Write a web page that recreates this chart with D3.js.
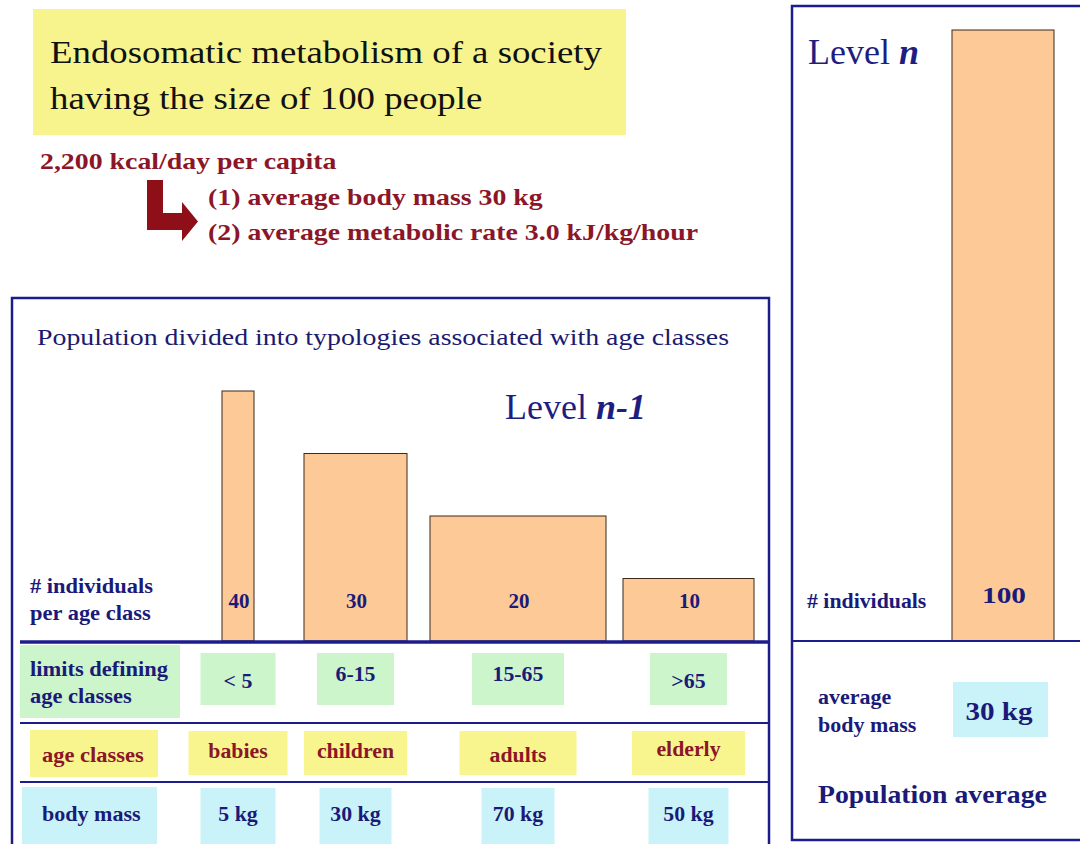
<!DOCTYPE html>
<meta charset="utf-8">
<head lang="en">
    <title>Endosomatic metabolism</title>
    <script src="https://cdnjs.cloudflare.com/ajax/libs/d3/7.8.5/d3.min.js"></script>
    <style type="text/css">
        body { margin: 0; background: #fff; }
        svg text { font-family: "Liberation Serif", "Times New Roman", serif; }
        .bar { fill: #fdc996; stroke: #3a2a1a; stroke-width: 1; }
        .frame { fill: none; stroke: #1c1c8c; stroke-width: 2.5; }
        .rule { stroke: #1c1c8c; stroke-width: 2; }
        .navy { fill: #1a1a78; font-weight: bold; }
        .red { fill: #8c1628; font-weight: bold; }
    </style>
</head>
<body>
<script type="text/javascript">

    // ---- data ----
    var ageClasses = ["babies", "children", "adults", "elderly"];
    var ageLimits = ["< 5", "6-15", "15-65", ">65"];
    var individuals = [40, 30, 20, 10];
    var bodyMass = [5, 30, 70, 50];          // kg
    var totalIndividuals = 100;
    var avgBodyMass = 30;                    // kg
    var titleLines = ["Endosomatic metabolism of a society", "having the size of 100 people"];
    var energyLines = ["2,200 kcal/day per capita", "(1) average body mass 30 kg",
        "(2) average metabolic rate 3.0 kJ/kg/hour"];

    var width = 1080, height = 844;
    var baseY = 641;

    var svg = d3.select("body").append("svg")
        .attr("width", width)
        .attr("height", height);

    // the original slide text is stretched sideways; widen glyphs by a factor
    function stretch(sel, f) {
        sel.each(function () {
            var w = this.getComputedTextLength();
            d3.select(this).attr("textLength", w * f).attr("lengthAdjust", "spacingAndGlyphs");
        });
        return sel;
    }

    //---- header ----
    svg.append("rect").attr("x", 33).attr("y", 9).attr("width", 593).attr("height", 126)
        .style("fill", "#f7f48e");
    svg.selectAll(".title").data(titleLines).enter().append("text")
        .attr("x", 50)
        .attr("y", function (d, i) { return 63 + i * 46; })
        .attr("font-size", "32px")
        .style("fill", "#111")
        .text(function (d) { return d; })
        .call(stretch, 1.15);

    svg.selectAll(".energy").data(energyLines).enter().append("text")
        .attr("class", "red")
        .attr("x", function (d, i) { return i === 0 ? 40 : 208; })
        .attr("y", function (d, i) { return i === 0 ? 169 : 170 + i * 35; })
        .attr("font-size", "23px")
        .text(function (d) { return d; })
        .call(stretch, 1.21);

    svg.append("path")
        .attr("d", "M147,180 H163 V213 H182 V202 L198,221.5 L182,241 V230 H147 Z")
        .style("fill", "#8e0f18");

    //---- left panel (level n-1) ----
    svg.append("rect").attr("class", "frame")
        .attr("x", 12).attr("y", 298).attr("width", 757).attr("height", 600);

    svg.append("text")
        .attr("x", 37).attr("y", 345)
        .attr("font-size", "24px")
        .style("fill", "#1a1a6e")
        .text("Population divided into typologies associated with age classes")
        .call(stretch, 1.16);

    var lvl1 = svg.append("text")
        .attr("x", 505).attr("y", 419)
        .attr("font-size", "36px")
        .style("fill", "#1e1e80");
    lvl1.append("tspan").text("Level ");
    lvl1.append("tspan").attr("font-weight", "bold").attr("font-style", "italic").text("n-1");

    // column layout
    var xLeft = d3.scaleOrdinal().domain(ageClasses).range([222, 304, 430, 623]);
    var xWidth = d3.scaleOrdinal().domain(ageClasses).range([32, 103, 176, 131]);
    var xMid = function (c) { return xLeft(c) + xWidth(c) / 2; };

    var yScale = d3.scaleLinear()
        .domain([0, d3.max(individuals)])
        .range([baseY, 391]);

    var rows = ageClasses.map(function (c, i) {
        return { cls: c, limit: ageLimits[i], n: individuals[i], mass: bodyMass[i] };
    });

    svg.selectAll(".bar.lvl1").data(rows).enter().append("rect")
        .attr("class", "bar lvl1")
        .attr("x", function (d) { return xLeft(d.cls); })
        .attr("width", function (d) { return xWidth(d.cls); })
        .attr("y", function (d) { return yScale(d.n); })
        .attr("height", function (d) { return yScale(0) - yScale(d.n); });

    svg.selectAll(".barlabel").data(rows).enter().append("text")
        .attr("class", "navy")
        .attr("x", function (d) { return xMid(d.cls) + 1; })
        .attr("y", 608)
        .attr("text-anchor", "middle")
        .attr("font-size", "21px")
        .text(function (d) { return d.n; });

    svg.selectAll(".rowlab1").data(["# individuals", "per age class"]).enter().append("text")
        .attr("class", "navy")
        .attr("x", 30)
        .attr("y", function (d, i) { return 593 + i * 27; })
        .attr("font-size", "21px")
        .text(function (d) { return d; })
        .call(stretch, 1.07);

    // table rows
    var rowDefs = [
        { key: "limit", fill: "#ccf5cc", cls: "navy", y0: 653, y1: 705, ty: [688, 681, 681, 688],
          widths: [75, 77, 92, 77], text: function (d) { return d.limit; } },
        { key: "cls", fill: "#f8f58e", cls: "red", y0: 731, y1: 775, ty: [758, 758, 762, 756],
          widths: [99, 103, 117, 113], text: function (d) { return d.cls; } },
        { key: "mass", fill: "#c9f3f8", cls: "navy", y0: 788, y1: 844, ty: [821, 821, 821, 821],
          widths: [75, 72, 73, 80], text: function (d) { return d.mass + " kg"; } }
    ];

    // label boxes
    svg.append("rect").attr("x", 20).attr("y", 645).attr("width", 160).attr("height", 73)
        .style("fill", "#ccf5cc");
    svg.append("rect").attr("x", 30).attr("y", 730).attr("width", 128).attr("height", 47)
        .style("fill", "#f8f58e");
    svg.append("rect").attr("x", 22).attr("y", 787).attr("width", 135).attr("height", 57)
        .style("fill", "#c9f3f8");

    rowDefs.forEach(function (r) {
        svg.selectAll(".cell-" + r.key).data(rows).enter().append("rect")
            .attr("x", function (d, i) { return xMid(d.cls) - r.widths[i] / 2; })
            .attr("y", r.y0)
            .attr("width", function (d, i) { return r.widths[i]; })
            .attr("height", r.y1 - r.y0)
            .style("fill", r.fill);
        svg.selectAll(".txt-" + r.key).data(rows).enter().append("text")
            .attr("class", r.cls)
            .attr("x", function (d) { return xMid(d.cls); })
            .attr("y", function (d, i) { return r.ty[i]; })
            .attr("text-anchor", "middle")
            .attr("font-size", "20px")
            .text(r.text)
            .call(stretch, 1.09);
    });

    svg.selectAll(".rowlab2").data(["limits defining", "age classes"]).enter().append("text")
        .attr("class", "navy")
        .attr("x", 30)
        .attr("y", function (d, i) { return 676 + i * 27; })
        .attr("font-size", "21px")
        .text(function (d) { return d; })
        .call(stretch, 1.07);
    svg.append("text").attr("class", "red")
        .attr("x", 42).attr("y", 762).attr("font-size", "21px")
        .text("age classes")
        .call(stretch, 1.07);
    svg.append("text").attr("class", "navy")
        .attr("x", 42).attr("y", 821).attr("font-size", "21px")
        .text("body mass")
        .call(stretch, 1.05);

    svg.append("line").attr("x1", 20).attr("x2", 770).attr("y1", baseY + 1).attr("y2", baseY + 1)
        .style("stroke", "#1c1c8c").style("stroke-width", 3.5);
    svg.append("line").attr("class", "rule").attr("x1", 20).attr("x2", 770).attr("y1", 723).attr("y2", 723);
    svg.append("line").attr("class", "rule").attr("x1", 20).attr("x2", 770).attr("y1", 782).attr("y2", 782);

    //---- right panel (level n) ----
    svg.append("rect").attr("class", "frame")
        .attr("x", 792).attr("y", 6).attr("width", 320).attr("height", 834);

    var lvl = svg.append("text")
        .attr("x", 808).attr("y", 64)
        .attr("font-size", "36px")
        .style("fill", "#1e1e80");
    lvl.append("tspan").text("Level ");
    lvl.append("tspan").attr("font-weight", "bold").attr("font-style", "italic").text("n");

    var yScaleN = d3.scaleLinear()
        .domain([0, totalIndividuals])
        .range([baseY, 30]);

    svg.selectAll(".bar.lvln").data([totalIndividuals]).enter().append("rect")
        .attr("class", "bar lvln")
        .attr("x", 952).attr("width", 102)
        .attr("y", function (d) { return yScaleN(d); })
        .attr("height", function (d) { return yScaleN(0) - yScaleN(d); });

    svg.append("text").attr("class", "navy")
        .attr("x", 1004).attr("y", 603).attr("text-anchor", "middle")
        .attr("font-size", "24px")
        .text(totalIndividuals)
        .call(stretch, 1.22);

    svg.append("text").attr("class", "navy")
        .attr("x", 807).attr("y", 608).attr("font-size", "20px")
        .text("# individuals")
        .call(stretch, 1.09);

    svg.append("line").attr("class", "rule").attr("x1", 792).attr("x2", 1080).attr("y1", 641).attr("y2", 641);

    svg.selectAll(".avglab").data(["average", "body mass"]).enter().append("text")
        .attr("class", "navy")
        .attr("x", 818)
        .attr("y", function (d, i) { return 704 + i * 28; })
        .attr("font-size", "20px")
        .text(function (d) { return d; })
        .call(stretch, 1.1);

    svg.append("rect").attr("x", 953).attr("y", 682).attr("width", 95).attr("height", 55)
        .style("fill", "#c9f3f8");
    svg.append("text").attr("class", "navy")
        .attr("x", 999).attr("y", 720).attr("text-anchor", "middle")
        .attr("font-size", "26px")
        .text(avgBodyMass + " kg")
        .call(stretch, 1.12);

    svg.append("text").attr("class", "navy")
        .attr("x", 818).attr("y", 803).attr("font-size", "25px")
        .text("Population average")
        .call(stretch, 1.11);

</script>
</body>
